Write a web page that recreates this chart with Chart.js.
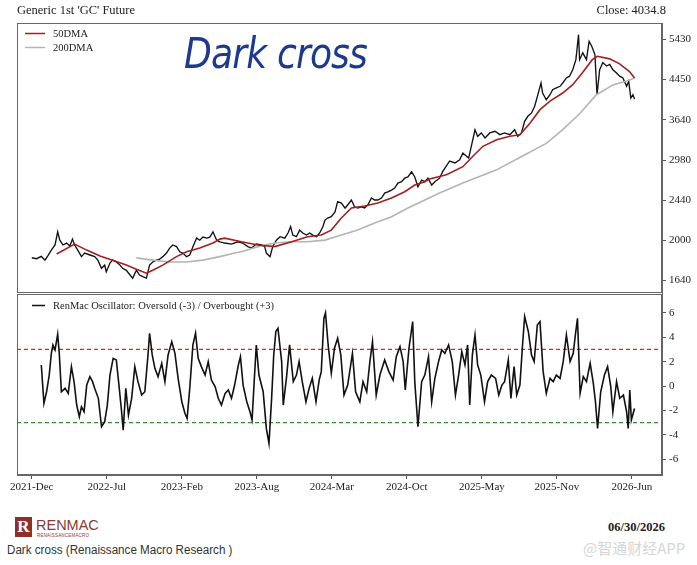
<!DOCTYPE html>
<html>
<head>
<meta charset="utf-8">
<script src="https://cdn.jsdelivr.net/npm/chart.js@4.4.0/dist/chart.umd.min.js"></script>
<style>
  html, body { margin: 0; padding: 0; background: #fff; }
  #wrap { position: relative; width: 697px; height: 565px; overflow: hidden; font-family: 'Liberation Serif', 'DejaVu Serif', serif; color: #222; }
  #priceCanvas { position: absolute; left: 0; top: 0; }
  #oscCanvas { position: absolute; left: 0; top: 294px; }
  .t { position: absolute; white-space: nowrap; line-height: 1; }
  #title { left: 17px; top: 4px; font-size: 12.5px; }
  #close { right: 31px; top: 4px; font-size: 12.5px; }
  #note { left: 184px; top: 33px; font-family: 'DejaVu Sans', sans-serif; font-style: italic; font-weight: 200; font-size: 42px; color: #1d3a8e; transform: scaleX(0.86); transform-origin: left top; letter-spacing: -1px; }
  #logoIcon { left: 15px; top: 517px; width: 17px; height: 20px; background: #8e2f28; color: #fff; font-family: 'Liberation Serif', serif; font-weight: bold; font-size: 17px; text-align: center; line-height: 20px; }
  #logoText { left: 36px; top: 518px; font-family: 'Liberation Sans', sans-serif; font-size: 14.5px; color: #8e3a33; }
  #logoSub { left: 37px; top: 534px; font-family: 'Liberation Sans', sans-serif; font-size: 4.5px; color: #8e3a33; letter-spacing: 0.2px; }
  #date { right: 32px; top: 521px; font-size: 12.5px; font-weight: bold; }
  #caption { left: 7px; top: 544px; font-family: 'Liberation Sans', Arial, sans-serif; font-size: 12.5px; color: #333; transform: scaleX(0.93); transform-origin: left top; }
  #mark { left: 583px; top: 540px; font-family: 'Noto Sans CJK SC', sans-serif; font-size: 15px; color: #d6d6d6; }
</style>
</head>
<body>
<div id="wrap">
  <canvas id="priceCanvas" width="697" height="294"></canvas>
  <canvas id="oscCanvas" width="697" height="203"></canvas>
  <div class="t" id="title">Generic 1st 'GC' Future</div>
  <div class="t" id="close"></div>
  <div class="t" id="note">Dark cross</div>
  <div class="t" id="logoIcon">R</div>
  <div class="t" id="logoText">RENMAC</div>
  <div class="t" id="logoSub">RENAISSANCEMACRO</div>
  <div class="t" id="date">06/30/2026</div>
  <div class="t" id="caption">Dark cross (Renaissance Macro Research )</div>
  <div class="t" id="mark">@智通财经APP</div>
</div>
<script>
// ---- data (x = trading-bar index from the first tick) ----
const tickLabels = ['2021-Dec', '2022-Jul', '2023-Feb', '2023-Aug', '2024-Mar', '2024-Oct', '2025-May', '2025-Nov', '2026-Jun'];
const barsPerTick = 142;
const lastClose = 4034.8;

const priceBars = [0, 9, 18, 25, 30, 37, 44, 49, 53, 59, 66, 72, 77, 81, 87, 94, 100, 110, 119, 125, 132, 138, 141, 148, 153, 160, 167, 172, 179, 186, 191, 198, 204, 210, 217, 223, 229, 236, 242, 248, 255, 261, 267, 274, 280, 286, 293, 299, 305, 312, 318, 324, 331, 337, 343, 350, 356, 365, 378, 390, 399, 409, 416, 425, 435, 441, 444, 451, 456, 463, 470, 479, 485, 490, 494, 501, 507, 513, 520, 526, 532, 539, 545, 551, 555, 560, 567, 574, 579, 586, 593, 598, 605, 611, 617, 624, 630, 636, 643, 649, 655, 662, 668, 674, 681, 687, 693, 700, 706, 712, 719, 725, 731, 738, 744, 750, 757, 763, 772, 778, 791, 801, 810, 816, 823, 827, 832, 839, 844, 851, 858, 867, 877, 886, 895, 905, 914, 920, 927, 933, 939, 946, 952, 958, 964, 967, 974, 981, 986, 993, 1000, 1005, 1012, 1018, 1024, 1030, 1032, 1035, 1037, 1043, 1050, 1055, 1060, 1066, 1070, 1075, 1081, 1088, 1094, 1100, 1107, 1113, 1119, 1126, 1130, 1134, 1138, 1141];
const priceClose = [1833, 1824, 1845, 1811, 1848, 1904, 1953, 2085, 2000, 1953, 1972, 1943, 2011, 1953, 1904, 1843, 1876, 1858, 1843, 1811, 1739, 1767, 1708, 1785, 1811, 1795, 1767, 1739, 1722, 1682, 1656, 1722, 1682, 1668, 1656, 1767, 1795, 1811, 1820, 1843, 1876, 1923, 1953, 1937, 1888, 1876, 1843, 1858, 1937, 2021, 2000, 2031, 2021, 2031, 2085, 2000, 1984, 1972, 1962, 1984, 1972, 1937, 1923, 1962, 1953, 1937, 1876, 1843, 1937, 2000, 2035, 2021, 2073, 2139, 2052, 2035, 2103, 2073, 2052, 2073, 2052, 2035, 2073, 2139, 2211, 2233, 2248, 2301, 2423, 2406, 2347, 2383, 2443, 2362, 2347, 2362, 2347, 2383, 2467, 2443, 2443, 2467, 2529, 2543, 2567, 2592, 2658, 2676, 2723, 2740, 2811, 2740, 2610, 2698, 2676, 2723, 2632, 2676, 2723, 2816, 2966, 2937, 2985, 3085, 3036, 3010, 3191, 3465, 3354, 3410, 3326, 3410, 3438, 3381, 3410, 3381, 3465, 3354, 3410, 3614, 3705, 3767, 3894, 4125, 4372, 4160, 4023, 4125, 4230, 4266, 4301, 4372, 4483, 4523, 4671, 4910, 5160, 5560, 4910, 5080, 4910, 5380, 5248, 5035, 4125, 4671, 4840, 4757, 4795, 4671, 4594, 4523, 4483, 4301, 4410, 4058, 4125, 4035];

const ma50Bars = [47, 81, 104, 129, 153, 179, 198, 217, 229, 248, 274, 293, 318, 343, 356, 365, 397, 428, 460, 492, 522, 548, 567, 586, 605, 630, 655, 681, 706, 725, 744, 753, 785, 816, 835, 854, 880, 905, 924, 943, 962, 981, 1005, 1024, 1042, 1061, 1071, 1094, 1112, 1131, 1141];
const ma50Values = [1867, 1962, 1904, 1849, 1811, 1767, 1731, 1697, 1722, 1767, 1843, 1888, 1923, 1972, 2011, 2021, 1984, 1953, 1937, 1984, 2035, 2052, 2103, 2233, 2347, 2371, 2407, 2467, 2546, 2632, 2676, 2712, 2770, 2883, 3036, 3191, 3297, 3354, 3381, 3578, 3829, 3994, 4160, 4336, 4594, 4910, 4993, 4930, 4814, 4634, 4483];

const ma200Bars = [198, 229, 261, 293, 324, 356, 384, 397, 428, 460, 492, 522, 555, 586, 617, 649, 681, 712, 744, 772, 816, 880, 929, 974, 1005, 1037, 1069, 1100, 1132, 1141];
const ma200Values = [1832, 1811, 1795, 1795, 1811, 1843, 1876, 1888, 1937, 1972, 1984, 1984, 2001, 2052, 2103, 2178, 2248, 2347, 2443, 2529, 2658, 2838, 3040, 3237, 3466, 3752, 4125, 4331, 4440, 4483];

const oscBars = [18, 23, 28, 33, 37, 40, 44, 49, 52, 56, 63, 69, 75, 80, 85, 90, 94, 99, 104, 110, 115, 119, 126, 132, 138, 143, 148, 154, 160, 165, 170, 173, 178, 183, 189, 195, 201, 208, 214, 220, 223, 228, 233, 239, 246, 252, 258, 265, 271, 277, 284, 290, 294, 299, 305, 310, 315, 321, 328, 334, 340, 347, 353, 359, 366, 372, 378, 384, 391, 395, 400, 407, 413, 417, 421, 425, 430, 438, 444, 449, 454, 458, 462, 466, 473, 476, 482, 488, 495, 501, 506, 512, 519, 525, 531, 538, 544, 548, 553, 556, 561, 567, 573, 579, 585, 591, 598, 607, 613, 621, 627, 634, 640, 645, 652, 659, 668, 676, 684, 690, 697, 703, 707, 714, 721, 725, 731, 738, 744, 751, 757, 763, 770, 776, 782, 789, 796, 802, 808, 814, 820, 825, 829, 834, 839, 844, 850, 857, 863, 870, 878, 884, 890, 895, 902, 907, 913, 918, 924, 929, 933, 940, 946, 951, 957, 962, 968, 974, 981, 987, 993, 1000, 1006, 1012, 1019, 1025, 1029, 1033, 1038, 1044, 1050, 1057, 1063, 1067, 1071, 1077, 1084, 1090, 1096, 1100, 1107, 1113, 1120, 1126, 1129, 1132, 1135, 1141];
const oscValues = [1.73, -1.42, -0.47, 0.9, 2.68, 3.37, 2.96, 4.25, 2.68, -0.47, -0.19, -0.6, 1.59, 0.36, -1.56, -2.52, -1.7, -2.11, 0.08, 0.77, 0.36, -0.19, -1.01, -3.34, -2.93, -1.56, 0.9, 2.27, 2.14, 0.08, -2.11, -3.62, -0.19, -2.38, -1.01, 1.59, 0.36, -0.74, -0.47, 2.55, 4.33, 2.55, 1.45, 0.77, 1.86, 0.36, 2.55, 3.64, 2.68, 0.63, -1.29, -2.25, -2.66, -0.19, 3.37, 4.33, 2.27, 1.59, 0.9, 2.0, 0.49, -0.05, -1.01, -1.56, -0.6, -0.33, -1.01, 0.08, 1.73, 2.41, 0.08, -1.29, -2.11, -2.79, 0.36, 3.37, 0.9, -0.47, -3.48, -4.71, -1.01, 2.55, 4.47, 4.74, 2.0, -1.56, 0.63, 3.37, 0.36, 0.9, 2.0, 0.36, -1.29, -0.19, 0.63, -1.29, 0.49, 1.18, 5.56, 6.0, 3.37, 1.04, 3.1, 3.92, 2.55, -0.74, 0.08, 2.68, -0.47, -1.29, 0.36, -0.47, 2.0, 3.64, -0.74, 0.9, 2.14, 1.18, 0.49, 2.41, 3.23, 2.0, -0.33, 3.1, 5.29, 0.36, -3.34, 0.36, 0.9, 2.41, -1.29, 0.63, 2.0, 2.96, 2.68, 3.37, 2.0, -0.74, 0.9, 2.82, 1.73, 3.37, -1.56, 2.55, 4.19, 1.73, 0.9, -1.29, 0.36, 0.9, 0.63, -0.74, 0.08, 0.36, 2.14, -1.01, 1.59, -0.74, 0.08, 3.37, 5.7, 4.47, 2.55, 2.0, 5.01, 5.29, 1.18, -0.6, 0.63, 0.36, 0.9, 0.63, 2.0, 4.19, 2.0, 2.68, 4.19, 5.56, -0.6, 0.77, 0.36, 1.86, 0.22, -1.29, -3.48, -0.47, 0.9, 1.59, -0.05, -2.11, 0.36, -1.01, -0.74, -2.11, -3.48, -0.33, -2.79, -1.84];

const overbought = 3;
const oversold = -3;
const priceTicks = [1640, 2000, 2440, 2980, 3640, 4450, 5430];
const oscTicks = [-6, -4, -2, 0, 2, 4, 6];

// ---- layout ----
const X_MIN = -28, X_MAX = 1193;
const AXIS_W = 35;

document.getElementById('close').textContent = 'Close: ' + lastClose;

Chart.defaults.font.family = "'Liberation Serif', 'DejaVu Serif', serif";
Chart.defaults.font.size = 11;
Chart.defaults.color = '#222';

const pts = (xs, ys) => xs.map((x, i) => ({ x, y: ys[i] }));

// frame round the plot area
const panelFrame = {
  id: 'panelFrame',
  afterDraw(chart) {
    const { ctx, chartArea: a } = chart;
    ctx.save();
    ctx.strokeStyle = '#666';
    ctx.lineWidth = 1;
    ctx.strokeRect(a.left + 0.5, a.top + 0.5, a.right - a.left - 1, a.bottom - a.top - 1);
    ctx.restore();
  }
};

// small legend drawn inside the plot, top-left
const insideLegend = {
  id: 'insideLegend',
  afterDraw(chart, args, opts) {
    const { ctx, chartArea: a } = chart;
    let y = a.top + opts.top;
    ctx.save();
    ctx.font = "10.5px 'Liberation Serif', serif";
    ctx.textBaseline = 'middle';
    chart.data.datasets.forEach(ds => {
      if (!ds.inLegend) return;
      ctx.strokeStyle = ds.borderColor;
      ctx.lineWidth = 1.5;
      ctx.beginPath();
      ctx.moveTo(a.left + opts.x0, y);
      ctx.lineTo(a.left + opts.x1, y);
      ctx.stroke();
      ctx.fillStyle = '#222';
      ctx.fillText(ds.label, a.left + 36, y + 0.5);
      y += 14;
    });
    ctx.restore();
  }
};

const xAxis = (show) => ({
  type: 'linear',
  min: X_MIN,
  max: X_MAX,
  display: show,
  afterBuildTicks: s => { s.ticks = tickLabels.map((_, i) => ({ value: i * barsPerTick })); },
  afterFit: s => { if (show) s.height = 22; s.paddingLeft = 0; s.paddingRight = 0; },
  ticks: { autoSkip: false, maxRotation: 0, padding: 2, color: '#222', font: { size: 11 },
           callback: (v, i) => tickLabels[i] },
  grid: { drawOnChartArea: false, tickLength: 4, color: '#555' },
  border: { color: '#666' },
});

const yAxis = (extra) => Object.assign({
  position: 'right',
  afterFit: s => { s.width = AXIS_W; s.paddingTop = 0; s.paddingBottom = 0; },
  ticks: { padding: 3, color: '#222', font: { size: 11 }, callback: v => String(v) },
  grid: { drawOnChartArea: false, tickLength: 4, color: '#555' },
  border: { color: '#666' },
}, extra);

const lineDs = (label, data, color, width, extra) => Object.assign({
  label, data, borderColor: color, borderWidth: width,
  pointRadius: 0, tension: 0, fill: false,
}, extra);

// ---- price panel ----
new Chart(document.getElementById('priceCanvas'), {
  type: 'line',
  data: {
    datasets: [
      lineDs('50DMA', pts(ma50Bars, ma50Values), '#a3201f', 1.6, { inLegend: true }),
      lineDs('200DMA', pts(ma200Bars, ma200Values), '#b4b4b4', 1.6, { inLegend: true }),
      lineDs('Generic 1st GC', pts(priceBars, priceClose), '#111', 1.35),
    ],
  },
  options: {
    responsive: false,
    animation: false,
    events: [],
    layout: { padding: { left: 17, top: 23, right: 0, bottom: 1 } },
    plugins: { legend: { display: false }, tooltip: { enabled: false },
               insideLegend: { top: 10.5, x0: 8, x1: 28 } },
    scales: {
      x: xAxis(false),
      y: yAxis({
        type: 'logarithmic', min: 1538, max: 5893,
        afterBuildTicks: s => { s.ticks = priceTicks.map(v => ({ value: v })); },
      }),
    },
  },
  plugins: [panelFrame, insideLegend],
});

// ---- oscillator panel ----
new Chart(document.getElementById('oscCanvas'), {
  type: 'line',
  data: {
    datasets: [
      lineDs('RenMac Oscillator: Oversold (-3) / Overbought (+3)', pts(oscBars, oscValues), '#111', 1.6, { inLegend: true }),
      lineDs('Overbought', pts([X_MIN, X_MAX], [overbought, overbought]), '#ee2020', 1.2, { borderDash: [4, 3] }),
      lineDs('Oversold', pts([X_MIN, X_MAX], [oversold, oversold]), '#2f8f2f', 1.1, { borderDash: [4, 3] }),
    ],
  },
  options: {
    responsive: false,
    animation: false,
    events: [],
    layout: { padding: { left: 17, top: 0, right: 0, bottom: 0 } },
    plugins: { legend: { display: false }, tooltip: { enabled: false },
               insideLegend: { top: 11.5, x0: 15, x1: 28 } },
    scales: {
      x: xAxis(true),
      y: yAxis({
        type: 'linear', min: -7.3, max: 7.55,
        afterBuildTicks: s => { s.ticks = oscTicks.map(v => ({ value: v })); },
      }),
    },
  },
  plugins: [panelFrame, insideLegend],
});
</script>
</body>
</html>
